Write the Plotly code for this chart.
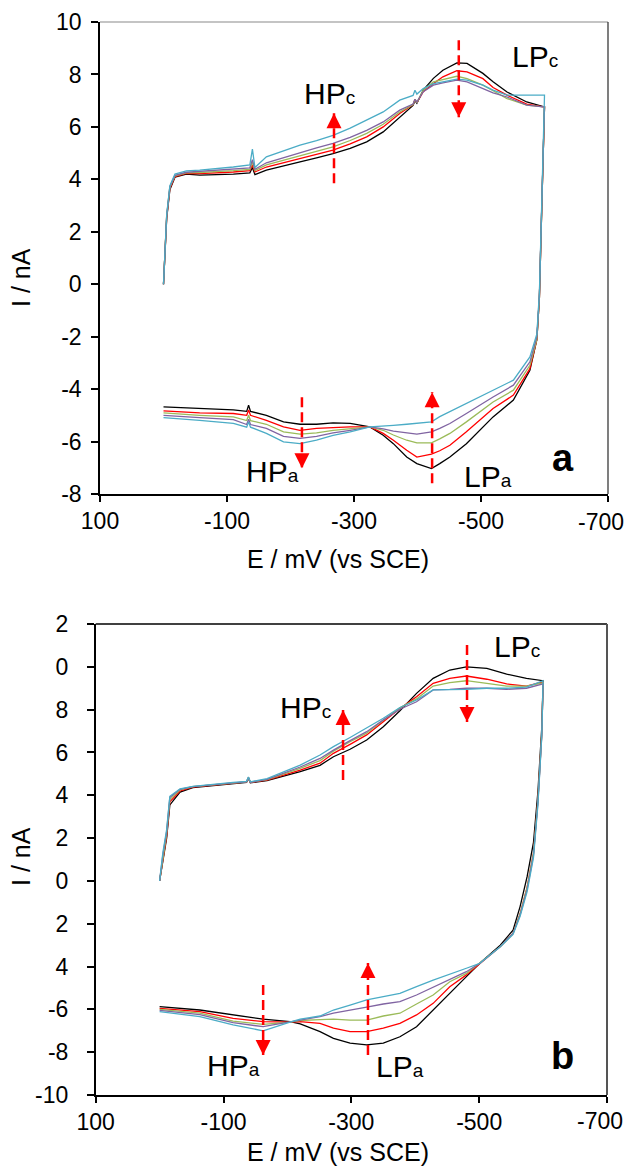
import plotly.graph_objects as go

# ------------------------------------------------------------------ data
SERIES = ["black", "red", "green", "purple", "cyan"]
COLORS = ["#000000", "#FF0000", "#9BBB59", "#8064A2", "#4BACC6"]

# ---- panel a : forward (cathodic) scan
E_fwd_a = [0, -5, -10, -18, -36, -57, -110, -136, -140, -144, -162, -189, -215, -241, -267,
           -294, -320, -346, -372, -393, -396, -399, -409, -425, -440, -462, -478, -503,
           -519, -541, -572, -598]
I_fwd_a_black = [0, 2.5, 3.6, 4.08, 4.2, 4.16, 4.20, 4.25, 4.45, 4.18, 4.35, 4.5, 4.67, 4.82, 4.98,
                 5.18, 5.43, 5.81, 6.38, 6.82, 7.0, 6.9, 7.40, 7.85, 8.16, 8.44, 8.42, 8.04,
                 7.72, 7.33, 6.95, 6.76]
I_fwd_a_red = [0, 2.55, 3.65, 4.1, 4.23, 4.22, 4.28, 4.33, 4.55, 4.28, 4.47, 4.63, 4.80, 4.95, 5.11,
               5.35, 5.62, 6.0, 6.51, 6.85, 7.05, 6.92, 7.34, 7.65, 7.91, 8.14, 8.10, 7.84,
               7.5, 7.21, 6.87, 6.76]
I_fwd_a_green = [0, 2.6, 3.7, 4.13, 4.25, 4.26, 4.33, 4.38, 4.65, 4.33, 4.55, 4.73, 4.90, 5.07, 5.24,
                 5.48, 5.75, 6.1, 6.57, 6.85, 7.05, 6.92, 7.40, 7.72, 7.81, 7.93, 7.84, 7.59,
                 7.38, 7.08, 6.83, 6.76]
I_fwd_a_purple = [0, 2.6, 3.72, 4.15, 4.27, 4.30, 4.38, 4.44, 4.75, 4.38, 4.63, 4.83, 5.02, 5.2, 5.37,
                  5.6, 5.87, 6.19, 6.64, 6.87, 7.05, 6.95, 7.34, 7.59, 7.68, 7.78, 7.72, 7.47,
                  7.3, 7.14, 6.83, 6.76]
I_fwd_a_cyan = [0, 2.65, 3.75, 4.2, 4.32, 4.35, 4.47, 4.55, 5.15, 4.45, 4.86, 5.08, 5.30, 5.48, 5.68,
                5.95, 6.25, 6.57, 7.02, 7.2, 7.4, 7.25, 7.46, 7.65, 7.72, 7.82, 7.78, 7.59,
                7.4, 7.21, 7.21, 7.21]

# ---- panel a : reverse (anodic) scan
E_rev_a = [-600, -596, -592, -588, -577, -551, -519, -477, -451, -435, -422, -399, -383, -362,
           -346, -325, -294, -267, -241, -215, -189, -162, -137, -134, -131, -110, -57, 0]
I_rev_a_black = [6.76, 3.2, -0.5, -2.1, -3.28, -4.42, -5.06, -6.08, -6.59, -6.84, -7.03, -6.84, -6.59, -6.08,
                 -5.76, -5.44, -5.31, -5.29, -5.34, -5.34, -5.25, -5.00, -4.85, -4.61, -4.85, -4.79, -4.74, -4.68]
I_rev_a_red = [6.76, 3.2, -0.5, -2.1, -3.22, -4.23, -4.74, -5.63, -6.14, -6.35, -6.48, -6.59, -6.33, -5.95,
               -5.69, -5.44, -5.44, -5.47, -5.50, -5.57, -5.44, -5.19, -5.0, -4.8, -5.0, -4.93, -4.91, -4.83]
I_rev_a_green = [6.76, 3.2, -0.5, -2.1, -3.09, -4.04, -4.49, -5.25, -5.69, -5.9, -6.05, -6.05, -5.95, -5.75,
                 -5.57, -5.44, -5.50, -5.57, -5.67, -5.72, -5.63, -5.34, -5.2, -5.0, -5.2, -5.06, -5.00, -4.91]
I_rev_a_purple = [6.76, 3.3, -0.4, -2.0, -2.96, -3.85, -4.30, -4.93, -5.31, -5.5, -5.63, -5.72, -5.68, -5.60,
                  -5.52, -5.44, -5.57, -5.67, -5.80, -5.88, -5.80, -5.50, -5.35, -5.15, -5.35, -5.16, -5.09, -5.00]
I_rev_a_cyan = [7.21, 3.4, -0.3, -1.9, -2.77, -3.66, -4.04, -4.55, -4.87, -5.05, -5.25, -5.32, -5.34, -5.38,
                -5.41, -5.44, -5.63, -5.76, -5.95, -6.08, -6.01, -5.69, -5.45, -5.25, -5.45, -5.31, -5.19, -5.09]

# ---- panel b : forward (cathodic) scan
E_fwd_b = [0, -5, -11, -16, -32, -52, -115, -136, -139, -142, -168, -220, -251, -272, -298, -324,
           -350, -376, -402, -428, -454, -480, -512, -543, -574, -598]
I_fwd_b_black = [0, 0.9, 2.0, 3.55, 4.15, 4.36, 4.55, 4.6, 4.8, 4.58, 4.68, 5.10, 5.40, 5.80, 6.15, 6.58,
                 7.2, 7.95, 8.76, 9.46, 9.85, 10.0, 9.93, 9.66, 9.46, 9.35]
I_fwd_b_red = [0, 1.0, 2.1, 3.7, 4.2, 4.38, 4.57, 4.62, 4.82, 4.6, 4.71, 5.18, 5.5, 5.96, 6.38, 6.82,
               7.44, 8.05, 8.6, 9.23, 9.46, 9.57, 9.42, 9.20, 9.10, 9.30]
I_fwd_b_green = [0, 1.1, 2.2, 3.8, 4.25, 4.4, 4.58, 4.63, 4.83, 4.61, 4.73, 5.26, 5.62, 6.06, 6.5, 6.9,
                 7.5, 8.08, 8.5, 9.10, 9.26, 9.35, 9.23, 9.10, 9.10, 9.25]
I_fwd_b_purple = [0, 1.2, 2.3, 3.9, 4.28, 4.4, 4.58, 4.63, 4.83, 4.61, 4.74, 5.32, 5.72, 6.11, 6.55, 6.97,
                  7.52, 8.02, 8.37, 8.92, 8.95, 9.0, 9.0, 8.95, 9.0, 9.2]
I_fwd_b_cyan = [0, 1.3, 2.4, 3.95, 4.3, 4.42, 4.6, 4.65, 4.85, 4.63, 4.78, 5.41, 5.88, 6.27, 6.7, 7.13,
                7.6, 8.10, 8.45, 8.92, 8.92, 8.95, 9.0, 9.0, 9.05, 9.35]

# ---- panel b : reverse (anodic) scan
E_rev_b = [-600, -598, -592, -585, -575, -564, -553, -533, -501, -480, -454, -428, -402, -376, -350,
           -324, -298, -272, -251, -220, -204, -162, -115, -63, 0]
I_rev_b_black = [9.35, 7.2, 4.2, 1.8, 0.2, -1.2, -2.3, -3.0, -3.85, -4.47, -5.25, -6.03, -6.81, -7.28, -7.58,
                 -7.66, -7.58, -7.35, -7.04, -6.68, -6.57, -6.46, -6.26, -6.03, -5.87]
I_rev_b_red = [9.30, 6.9, 3.8, 1.3, -0.3, -1.55, -2.45, -3.07, -3.85, -4.39, -4.94, -5.72, -6.26, -6.65, -6.88,
               -7.04, -7.04, -6.88, -6.65, -6.57, -6.6, -6.57, -6.42, -6.11, -5.95]
I_rev_b_green = [9.25, 6.9, 3.8, 1.3, -0.3, -1.55, -2.45, -3.07, -3.85, -4.32, -4.71, -5.33, -5.75, -6.18, -6.31,
                 -6.50, -6.50, -6.46, -6.48, -6.52, -6.6, -6.7, -6.55, -6.18, -6.00]
I_rev_b_purple = [9.2, 6.8, 3.7, 1.2, -0.4, -1.6, -2.45, -3.07, -3.85, -4.24, -4.60, -4.94, -5.33, -5.64, -5.75,
                  -5.90, -6.03, -6.18, -6.34, -6.5, -6.6, -6.81, -6.62, -6.25, -6.05]
I_rev_b_cyan = [9.35, 6.8, 3.6, 1.1, -0.5, -1.65, -2.5, -3.07, -3.85, -4.08, -4.35, -4.63, -4.94, -5.25, -5.41,
                -5.56, -5.80, -6.03, -6.31, -6.46, -6.6, -7.0, -6.73, -6.34, -6.11]

# axis ticks
X_TICKS = [100, -100, -300, -500, -700]
X_TICKTEXT = ["100", "-100", "-300", "-500", "-700"]
YA_TICKS = [-8, -6, -4, -2, 0, 2, 4, 6, 8, 10]
YA_TICKTEXT = ["-8", "-6", "-4", "-2", "0", "2", "4", "6", "8", "10"]
YB_TICKS = [-10, -8, -6, -4, -2, 0, 2, 4, 6, 8, 10, 12]
YB_TICKTEXT = ["-10", "-8", "-6", "4", "2", "0", "2", "4", "6", "8", "0", "2"]

# peak-shift arrows: (E, I_tail, I_tip)
ARROWS_A = [(-268.5, 3.85, 6.52), (-465, 9.3, 6.37), (-218, -4.31, -7.02), (-423, -7.59, -4.12)]
ARROWS_B = [(-287, 4.71, 7.98), (-481, 11.02, 7.42), (-162, -4.86, -8.13), (-326, -8.13, -3.83)]

# ------------------------------------------------------------------ figure
PAGE_W, PAGE_H = 634, 1176
OFF = 8                       # default page (body) margin
W, H = PAGE_W - OFF, PAGE_H - 2 * OFF
FONT = "Arial, 'Liberation Sans', sans-serif"
TICK_SIZE = 23

fig = go.Figure()

fwd_a = [I_fwd_a_black, I_fwd_a_red, I_fwd_a_green, I_fwd_a_purple, I_fwd_a_cyan]
rev_a = [I_rev_a_black, I_rev_a_red, I_rev_a_green, I_rev_a_purple, I_rev_a_cyan]
fwd_b = [I_fwd_b_black, I_fwd_b_red, I_fwd_b_green, I_fwd_b_purple, I_fwd_b_cyan]
rev_b = [I_rev_b_black, I_rev_b_red, I_rev_b_green, I_rev_b_purple, I_rev_b_cyan]

for name, col, f, r in zip(SERIES, COLORS, fwd_a, rev_a):
    fig.add_trace(go.Scatter(x=E_fwd_a + E_rev_a, y=f + r, mode="lines", name=name,
                             line=dict(color=col, width=1.3), xaxis="x", yaxis="y",
                             showlegend=False))
for name, col, f, r in zip(SERIES, COLORS, fwd_b, rev_b):
    fig.add_trace(go.Scatter(x=E_fwd_b + E_rev_b, y=f + r, mode="lines", name=name,
                             line=dict(color=col, width=1.3), xaxis="x2", yaxis="y2",
                             showlegend=False))

shapes = []
for arrows, xr, yr in ((ARROWS_A, "x", "y"), (ARROWS_B, "x2", "y2")):
    for e, i0, i1 in arrows:
        up = i1 > i0
        shapes.append(dict(type="line", xref=xr, yref=yr, x0=e, x1=e, y0=i0, y1=i1,
                           line=dict(color="#FF0000", width=2.5, dash="10px,5px")))
        fig.add_trace(go.Scatter(x=[e], y=[i1], mode="markers", xaxis=xr, yaxis=yr,
                                 marker=dict(symbol="arrow-up" if up else "arrow-down",
                                             size=15, color="#FF0000", line=dict(width=0)),
                                 showlegend=False, hoverinfo="skip"))

# frame borders (top & right)
shapes += [
    dict(type="line", xref="x domain", yref="y domain", x0=0, x1=1, y0=1, y1=1,
         line=dict(color="#8a8a8a", width=1.2)),
    dict(type="line", xref="x domain", yref="y domain", x0=1, x1=1, y0=0, y1=1,
         line=dict(color="#3a3a3a", width=1.3)),
    dict(type="line", xref="x2 domain", yref="y2 domain", x0=0, x1=1, y0=1, y1=1,
         line=dict(color="#000000", width=1.5)),
    dict(type="line", xref="x2 domain", yref="y2 domain", x0=1, x1=1, y0=0, y1=1,
         line=dict(color="#555555", width=2)),
]

def px_x(p):
    return (p - OFF) / W

def px_y(p):
    return 1 - (p - OFF) / H

axis_common = dict(showgrid=False, zeroline=False, showline=True, linecolor="black", linewidth=1.5,
                   ticks="outside", tickcolor="black", tickwidth=1.5,
                   tickfont=dict(family=FONT, size=TICK_SIZE, color="black"))

# the last x tick label sits at the page edge; it is drawn as a slightly nudged annotation
x_ticktext_axis = X_TICKTEXT[:-1] + [""]

fig.update_layout(
    width=W, height=H, margin=dict(l=0, r=0, t=0, b=0, autoexpand=False),
    paper_bgcolor="white", plot_bgcolor="white",
    font=dict(family=FONT, color="black"),
    xaxis=dict(domain=[px_x(100), px_x(608)], range=[100, -700], tickvals=X_TICKS,
               ticktext=x_ticktext_axis, ticklen=6, anchor="y", ticklabelstandoff=0, **axis_common),
    yaxis=dict(domain=[px_y(494), px_y(22)], range=[-8, 10], tickvals=YA_TICKS,
               ticktext=YA_TICKTEXT, ticklen=7, anchor="x", ticklabelstandoff=5, **axis_common),
    xaxis2=dict(domain=[px_x(95.7), px_x(607)], range=[100, -700], tickvals=X_TICKS,
                ticktext=x_ticktext_axis, ticklen=6, anchor="y2", ticklabelstandoff=0, **axis_common),
    yaxis2=dict(domain=[px_y(1095), px_y(624)], range=[-10, 12], tickvals=YB_TICKS,
                ticktext=YB_TICKTEXT, ticklen=7, anchor="x2", ticklabelstandoff=14, **axis_common),
    shapes=shapes,
)

ann = []
def label(x, y, text, xr, yr, size=30, bold=False):
    ann.append(dict(x=x, y=y, xref=xr, yref=yr, text=text, showarrow=False,
                    font=dict(family=FONT, size=size, color="black",
                              weight="bold" if bold else "normal"),
                    xanchor="center", yanchor="middle"))

sub = lambda main, s: f"{main}<span style='font-size:19px'>{s}</span>"

# panel a labels
label(-262, 7.28, sub("HP", "c"), "x", "y")
label(-585, 8.7, sub("LP", "c"), "x", "y")
label(-171, -7.13, sub("HP", "a"), "x", "y")
label(-511, -7.32, sub("LP", "a"), "x", "y")
label(-629, -6.64, "a", "x", "y", size=38, bold=True)
# panel b labels
label(-229, 8.12, sub("HP", "c"), "x2", "y2")
label(-559, 10.97, sub("LP", "c"), "x2", "y2")
label(-115, -8.64, sub("HP", "a"), "x2", "y2")
label(-376, -8.69, sub("LP", "a"), "x2", "y2")
label(-630, -8.18, "b", "x2", "y2", size=38, bold=True)

# last x tick labels (nudged to stay inside the visible page)
for xr, yc in (("x", 522), ("x2", 1121)):
    ann.append(dict(x=X_TICKS[-1], y=px_y(yc), xref=xr, yref="paper", text=X_TICKTEXT[-1],
                    showarrow=False, xshift=-7,
                    font=dict(family=FONT, size=TICK_SIZE, color="black"),
                    xanchor="center", yanchor="middle"))

# axis titles
ann.append(dict(x=px_x(338), y=px_y(559), xref="paper", yref="paper", text="E / mV (vs SCE)",
                showarrow=False, font=dict(family=FONT, size=25, color="black"),
                xanchor="center", yanchor="middle"))
ann.append(dict(x=px_x(338), y=0, xref="paper", yref="paper", text="E / mV (vs SCE)",
                showarrow=False, font=dict(family=FONT, size=25, color="black"),
                xanchor="center", yanchor="bottom"))
for yc in (278, 857):
    ann.append(dict(x=px_x(21), y=px_y(yc), xref="paper", yref="paper", text="I / nA",
                    showarrow=False, textangle=-90, font=dict(family=FONT, size=25, color="black"),
                    xanchor="center", yanchor="middle"))

fig.update_layout(annotations=ann)

fig.write_html("out.html")
